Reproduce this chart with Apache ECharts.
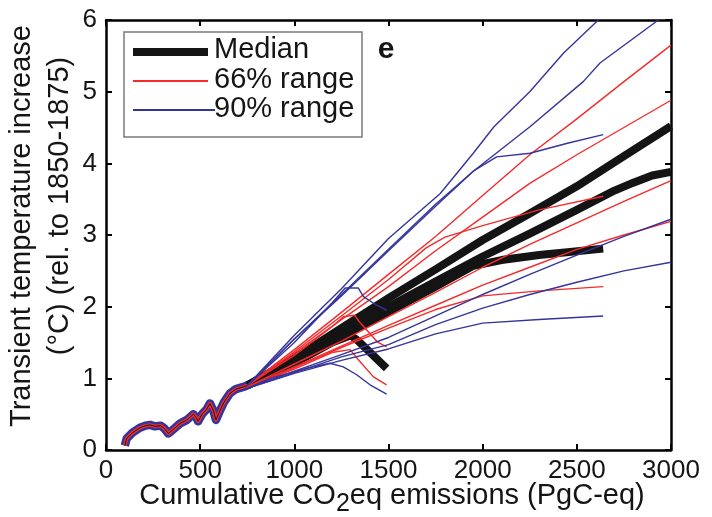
<!DOCTYPE html>
<html><head><meta charset="utf-8">
<script src="https://cdn.jsdelivr.net/npm/echarts@6/dist/echarts.min.js"></script>
<style>html,body{margin:0;padding:0;background:#fff}#c{width:712px;height:517px}</style>
</head><body><div id="c"></div>
<script>
const xTicks = [0,500,1000,1500,2000,2500,3000];
const yTicks = [0,1,2,3,4,5,6];
const xTitleParts = ['Cumulative CO', '2', 'eq emissions (PgC-eq)'];
const yTitleLines = ['Transient temperature increase', '(°C) (rel. to 1850-1875)'];
const legendNames = ['Median', '66% range', '90% range'];
const panelLetter = 'e';

// historical common trajectory
const historical = [[100,0.06],[110,0.16],[140,0.24],[180,0.31],[210,0.34],[234,0.35],[260,0.33],[290,0.34],[310,0.30],[331,0.23],[350,0.27],[393,0.37],[430,0.42],[464,0.50],[480,0.45],[489,0.40],[510,0.50],[535,0.57],[552,0.65],[570,0.55],[584,0.42],[600,0.52],[625,0.66],[658,0.79],[690,0.85],[729,0.88],[750,0.90]];

// medians
const medianA = [[750,0.9],[1000,1.28],[1250,1.7],[1500,2.12],[1750,2.52],[2000,2.93],[2250,3.3],[2500,3.68],[2750,4.1],[3000,4.52]];
const medianB = [[750,0.9],[1000,1.25],[1250,1.62],[1500,2.0],[1750,2.35],[2000,2.7],[2250,3.02],[2500,3.35],[2700,3.62],[2800,3.73],[2900,3.83],[3000,3.88]];
const medianC = [[750,0.9],[1000,1.23],[1250,1.58],[1500,1.93],[1750,2.28],[1950,2.57],[2100,2.65],[2300,2.72],[2640,2.81]];
const medianD = [[750,0.9],[1000,1.21],[1200,1.5],[1300,1.6],[1340,1.52],[1490,1.14]];

// 66% range
const r66A_hi = [[750,0.9],[1000,1.4],[1250,1.92],[1500,2.45],[1750,2.98],[2000,3.55],[2250,4.12],[2500,4.62],[2750,5.14],[3000,5.65]];
const r66B_hi = [[750,0.9],[1000,1.35],[1250,1.82],[1500,2.28],[1750,2.78],[2000,3.25],[2250,3.72],[2500,4.12],[2750,4.5],[3000,4.88]];
const r66C_hi = [[750,0.9],[1000,1.37],[1250,1.87],[1500,2.38],[1700,2.82],[1800,2.97],[2000,3.13],[2300,3.35],[2640,3.54]];
const r66D_hi = [[750,0.9],[1000,1.32],[1200,1.72],[1260,1.86],[1320,1.88],[1345,1.79],[1440,1.51],[1490,1.44]];
const r66A_lo = [[750,0.88],[1000,1.2],[1250,1.52],[1500,1.86],[1750,2.2],[2000,2.55],[2250,2.87],[2500,3.17],[2750,3.47],[3000,3.76]];
const r66B_lo = [[750,0.88],[1000,1.16],[1250,1.45],[1500,1.74],[1750,2.02],[2000,2.3],[2250,2.55],[2500,2.8],[2750,3.0],[3000,3.19]];
const r66C_lo = [[750,0.88],[1000,1.15],[1250,1.43],[1500,1.7],[1750,1.96],[2000,2.15],[2300,2.22],[2640,2.28]];
const r66D_lo = [[750,0.88],[1000,1.13],[1200,1.36],[1296,1.40],[1340,1.26],[1420,1.02],[1490,0.91]];

// 90% range
const r90A_hi = [[750,0.9],[1000,1.6],[1250,2.25],[1500,2.95],[1775,3.58],[1950,4.14],[2060,4.51],[2250,5.0],[2430,5.54],[2614,6.0]];
const r90B_hi = [[750,0.9],[1000,1.55],[1250,2.15],[1500,2.78],[1750,3.4],[1950,3.89],[2251,4.51],[2534,5.14],[2623,5.40],[2933,6.0]];
const r90C_hi = [[750,0.9],[1000,1.55],[1250,2.17],[1500,2.8],[1750,3.43],[1950,3.89],[2074,4.09],[2251,4.14],[2450,4.28],[2640,4.40]];
const r90D_hi = [[750,0.9],[1000,1.5],[1200,2.05],[1270,2.26],[1340,2.26],[1367,2.14],[1437,2.02],[1490,1.95]];
const r90A_lo = [[750,0.86],[1000,1.1],[1250,1.33],[1500,1.57],[1750,1.87],[2000,2.17],[2250,2.45],[2500,2.72],[2750,2.98],[3000,3.22]];
const r90B_lo = [[750,0.86],[1000,1.08],[1250,1.3],[1500,1.47],[1750,1.75],[2000,1.98],[2250,2.17],[2500,2.34],[2750,2.5],[3000,2.62]];
const r90C_lo = [[750,0.86],[1000,1.07],[1250,1.25],[1500,1.41],[1750,1.62],[2000,1.77],[2300,1.82],[2640,1.87]];
const r90D_lo = [[750,0.86],[871,1.0],[1066,1.14],[1189,1.21],[1260,1.16],[1331,1.05],[1402,0.91],[1490,0.78]];

const FONT = "'Liberation Sans', Arial, Helvetica, sans-serif";
const BLACK = '#141414', RED = '#f52a2a', BLUE = '#34349c';

function line(name, data, color, width, z) {
  return { type: 'line', name: name, data: data, symbol: 'none', silent: true,
    lineStyle: { color: color, width: width, cap: 'butt', join: 'round' },
    itemStyle: { color: color }, z: z, animation: false };
}

const series = [];
[medianA, medianB, medianC, medianD].forEach(d => series.push(line(legendNames[0], d, BLACK, 8, 2)));
[r66A_hi, r66B_hi, r66C_hi, r66D_hi, r66A_lo, r66B_lo, r66C_lo, r66D_lo].forEach(d => series.push(line(legendNames[1], d, RED, 1.4, 3)));
[r90A_hi, r90B_hi, r90C_hi, r90D_hi, r90A_lo, r90B_lo, r90C_lo, r90D_lo].forEach(d => series.push(line(legendNames[2], d, BLUE, 1.4, 4)));
series.push(line('hist90', historical, BLUE, 8.5, 5));
series.push(line('hist66', historical, RED, 3.5, 6));
series.push(line('histMed', historical, BLACK, 1, 7));

const axisCommon = {
  axisLine: { show: true, onZero: false, lineStyle: { color: '#000', width: 2.5 } },
  axisTick: { show: true, inside: true, length: 6, lineStyle: { color: '#000', width: 2 } },
  splitLine: { show: false }
};
const labelStyle = { fontSize: 26, color: '#151515', fontFamily: FONT, formatter: v => String(v) };

const chart = echarts.init(document.getElementById('c'), null, { renderer: 'canvas' });
chart.setOption({
  backgroundColor: '#fff',
  animation: false,
  grid: { left: 106, right: 41, top: 20, bottom: 67 },
  xAxis: [
    Object.assign({ type: 'value', position: 'bottom', min: xTicks[0], max: xTicks[xTicks.length-1], interval: xTicks[1]-xTicks[0],
      axisLabel: Object.assign({ margin: 8 }, labelStyle) }, axisCommon),
    Object.assign({ type: 'value', position: 'top', min: xTicks[0], max: xTicks[xTicks.length-1], interval: xTicks[1]-xTicks[0],
      axisLabel: { show: false } }, axisCommon)
  ],
  yAxis: [
    Object.assign({ type: 'value', position: 'left', min: yTicks[0], max: yTicks[yTicks.length-1], interval: yTicks[1]-yTicks[0],
      axisLabel: Object.assign({ margin: 9 }, labelStyle) }, axisCommon),
    Object.assign({ type: 'value', position: 'right', min: yTicks[0], max: yTicks[yTicks.length-1], interval: yTicks[1]-yTicks[0],
      axisLabel: { show: false } }, axisCommon)
  ],
  series: series,
  graphic: [
    { type: 'rect', shape: { x: 124, y: 32, width: 238, height: 105 }, style: { fill: '#fff', stroke: '#7a7a7a', lineWidth: 1.5 }, z: 100 },
    { type: 'line', shape: { x1: 133, y1: 52, x2: 208, y2: 52 }, style: { stroke: BLACK, lineWidth: 8 }, z: 101 },
    { type: 'line', shape: { x1: 133, y1: 81, x2: 208, y2: 81 }, style: { stroke: RED, lineWidth: 2 }, z: 101 },
    { type: 'line', shape: { x1: 133, y1: 110, x2: 215, y2: 110 }, style: { stroke: BLUE, lineWidth: 2 }, z: 101 },
    { type: 'text', x: 214, y: 50, style: { text: legendNames[0], font: '29px ' + FONT, fill: '#151515', verticalAlign: 'middle', align: 'left' }, z: 102 },
    { type: 'text', x: 214, y: 80, style: { text: legendNames[1], font: '29px ' + FONT, fill: '#151515', verticalAlign: 'middle', align: 'left' }, z: 102 },
    { type: 'text', x: 214, y: 109, style: { text: legendNames[2], font: '29px ' + FONT, fill: '#151515', verticalAlign: 'middle', align: 'left' }, z: 102 },
    { type: 'text', x: 386, y: 50, style: { text: panelLetter, font: 'bold 30px ' + FONT, fill: '#151515', verticalAlign: 'middle', align: 'center' }, z: 102 },
    { type: 'text', x: 392, y: 496, style: {
        text: '{a|' + xTitleParts[0] + '}{s|' + xTitleParts[1] + '}{a|' + xTitleParts[2] + '}',
        rich: { a: { fontSize: 29, fontFamily: FONT, fill: '#151515', color: '#151515' },
                s: { fontSize: 25, fontFamily: FONT, fill: '#151515', color: '#151515', padding: [16, 0, 0, 0] } },
        align: 'center', verticalAlign: 'middle' }, z: 102 },
    { type: 'text', x: 22, y: 226, rotation: Math.PI / 2, style: { text: yTitleLines[0], font: '29px ' + FONT, fill: '#151515', align: 'center', verticalAlign: 'middle' }, z: 102 },
    { type: 'text', x: 60, y: 206, rotation: Math.PI / 2, style: { text: yTitleLines[1], font: '29px ' + FONT, fill: '#151515', align: 'center', verticalAlign: 'middle' }, z: 102 }
  ]
});
</script>
</body></html>
